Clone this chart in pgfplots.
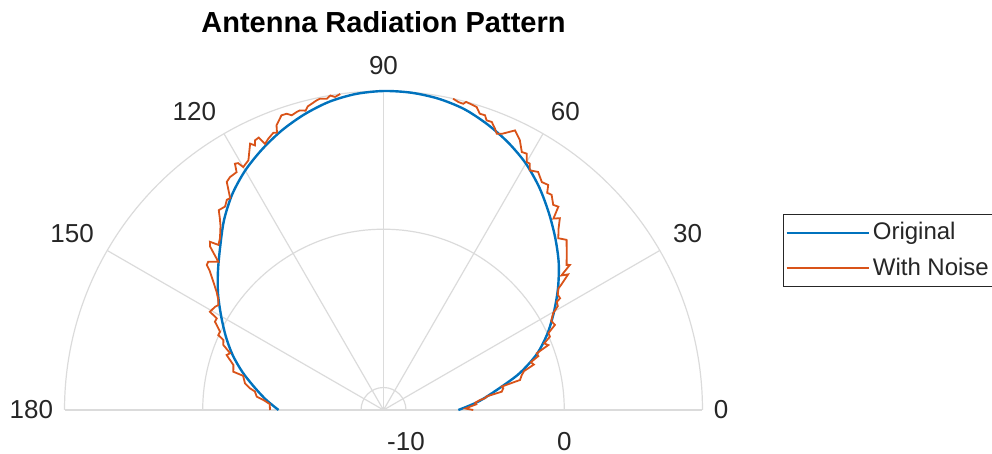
\documentclass[border=0pt]{standalone}
\usepackage{fontspec}
\setmainfont{Liberation Sans}
\usepackage{pgfplots}
\pgfplotsset{compat=1.18}
\usetikzlibrary{calc}
\definecolor{mblue}{rgb}{0,0.447,0.741}
\definecolor{morange}{rgb}{0.85,0.325,0.098}
\definecolor{gridc}{rgb}{0.86,0.86,0.86}
\definecolor{tickc}{rgb}{0.15,0.15,0.15}
\begin{document}
\begin{tikzpicture}
\begin{axis}[
  x=7.915pt, y=7.915pt,
  xmin=-21, xmax=21, ymin=-3, ymax=22,
  hide axis, clip=false,
  legend cell align=left,
  legend image code/.code={\draw[#1] (0pt,0pt) -- (41pt,0pt);},
  legend style={at={(1.1008,0.6152)}, anchor=north west,
    draw=tickc, line width=0.5pt, fill=white,
    font=\fontsize{12}{14}\selectfont, text=tickc,
    inner xsep=1pt, inner ysep=2.5pt, row sep=4.5pt,
    nodes={inner sep=1.5pt}},
]
% grid circles (-10 dB, 0 dB, outer limit)
\draw[gridc, line width=0.6pt] (axis cs:0,0) ++(0:11.24pt) arc[start angle=0, end angle=180, radius=11.24pt];
\draw[gridc, line width=0.6pt] (axis cs:0,0) ++(0:90.39pt) arc[start angle=0, end angle=180, radius=90.39pt];
\draw[gridc, line width=0.6pt] (axis cs:0,0) ++(0:159.49pt) arc[start angle=0, end angle=180, radius=159.49pt];
% spokes
\draw[gridc, line width=0.6pt] (axis cs:0,0) -- ++(0:159.49pt);
\draw[gridc, line width=0.6pt] (axis cs:0,0) -- ++(30:159.49pt);
\draw[gridc, line width=0.6pt] (axis cs:0,0) -- ++(60:159.49pt);
\draw[gridc, line width=0.6pt] (axis cs:0,0) -- ++(90:159.49pt);
\draw[gridc, line width=0.6pt] (axis cs:0,0) -- ++(120:159.49pt);
\draw[gridc, line width=0.6pt] (axis cs:0,0) -- ++(150:159.49pt);
\draw[gridc, line width=0.6pt] (axis cs:0,0) -- ++(180:159.49pt);
% Original pattern (theta in deg, r in dB); radial offset: center = -11.42 dB
\addplot[mblue, line width=1.2pt, smooth, data cs=polar] table[x=t, y expr=\thisrow{r}+11.42] {
t r
0 -6.69
5 -5.42
10 -4.16
15 -2.55
20 -1.12
25 0.01
30 1.02
35 2.04
40 3.03
45 3.93
50 4.83
55 5.74
60 6.56
65 7.22
70 7.78
75 8.26
80 8.55
85 8.70
90 8.73
95 8.62
100 8.35
105 7.91
110 7.37
115 6.74
120 6.05
125 5.23
130 4.25
135 3.17
140 2.23
145 1.34
150 0.42
155 -0.43
160 -1.28
165 -2.20
170 -3.14
175 -3.97
180 -4.79
};
\addlegendentry{Original}
% With noise (right part, clipped above r limit between ~78 and ~97 deg)
\addplot[morange, line width=0.9pt, data cs=polar] table[x=t, y expr=\thisrow{r}+11.42] {
t r
0 -5.75
1 -6.24
2.2 -5.95
3.5 -5.55
4.5 -5.61
5.9 -5.29
6.6 -4.96
7.5 -4.85
8.8 -3.86
10.3 -3.73
11.2 -3.81
12.4 -2.59
14.2 -2.41
15.5 -2.20
16.8 -1.50
18.0 -1.63
19.2 -1.06
20.3 -1.10
21.5 -0.23
22.5 -0.43
23.8 0.07
25.0 0.08
26.4 0.67
28.0 0.58
29.7 0.92
30.8 1.40
32.0 1.49
32.3 1.78
33.5 1.78
34.8 2.04
35.2 2.33
36.3 3.05
37.1 2.67
37.9 3.50
38.4 3.34
40.5 3.80
42.9 4.37
44.5 4.06
46.0 4.50
47.4 5.04
48.4 4.75
49.3 5.52
50.4 5.40
52.0 5.83
53.0 5.76
53.8 6.20
55.2 6.11
57.0 6.51
58.6 6.32
59.3 6.68
60.0 6.67
60.8 7.13
61.8 7.07
63.2 7.68
64.8 8.10
66.8 7.56
67.7 7.44
68.4 7.70
69.4 8.02
70.4 8.00
71.0 8.27
72.0 8.26
72.9 8.60
73.6 8.65
75.0 8.73
75.4 8.57
76.3 8.60
77.4 8.73
};
\addlegendentry{With Noise}
\addplot[morange, line width=0.9pt, data cs=polar, forget plot] table[x=t, y expr=\thisrow{r}+11.42] {
t r
97.8 8.73
98.8 8.59
99.6 8.73
100.3 8.57
101.5 8.65
102.2 8.59
103.2 8.45
104.0 8.35
104.6 8.12
105.6 8.23
106.2 8.19
107.3 8.08
108.1 8.27
109.1 8.28
110.6 7.79
111.0 7.35
111.7 7.42
113.0 7.20
114.0 6.98
114.6 7.51
115.5 7.45
115.9 7.16
116.6 7.40
118.4 6.52
120.0 6.30
120.5 6.68
121.1 6.75
121.7 6.24
123.4 6.20
124.5 6.06
125.9 5.10
126.7 5.14
127.9 4.87
129.5 4.94
130.5 4.50
131.5 4.12
133.6 3.56
135.0 3.33
135.9 3.85
136.7 3.63
138.1 2.60
139.8 3.08
140.6 3.03
141.3 2.65
143.0 2.04
144.7 1.50
146.3 1.12
147.6 0.94
148.5 1.06
150.5 1.18
151.2 0.60
152.35 0.60
154.4 0.03
155.6 0.04
156.4 -0.38
157.9 -0.50
159.7 -1.09
160.7 -0.92
163.3 -1.52
165.7 -1.63
166.3 -2.29
169.1 -2.51
170.8 -2.88
171.8 -3.21
174.0 -3.37
175.2 -3.80
177.0 -4.22
180.0 -4.25
};
\coordinate (c) at (axis cs:0,0);
\end{axis}
\begin{scope}[every node/.style={inner sep=0pt, text=tickc, font=\fontsize{13}{15}\selectfont}]
% angular tick labels
\node[anchor=west] at ($(c)+(0:165pt)$) {0};
\node[anchor=south west] at ($(c)+(30:167pt)$) {30};
\node[anchor=south west] at ($(c)+(60:167pt)$) {60};
\node[anchor=south] at ($(c)+(90:167.5pt)$) {90};
\node[anchor=south east] at ($(c)+(120:167pt)$) {120};
\node[anchor=south east] at ($(c)+(150:167pt)$) {150};
\node[anchor=east] at ($(c)+(180:165pt)$) {180};
% radial tick labels
\node[anchor=north] at ($(c)+(11.24pt,-11pt)$) {-10};
\node[anchor=north] at ($(c)+(90.39pt,-11pt)$) {0};
\end{scope}
% title
\node[anchor=base, inner sep=0pt, font=\fontsize{14.5}{17}\selectfont\bfseries] at ($(c)+(0pt,188.5pt)$) {Antenna Radiation Pattern};
\pgfresetboundingbox
\path (c) ++(-191.75pt,-22pt) rectangle ++(496pt,227pt);
\end{tikzpicture}
\end{document}
